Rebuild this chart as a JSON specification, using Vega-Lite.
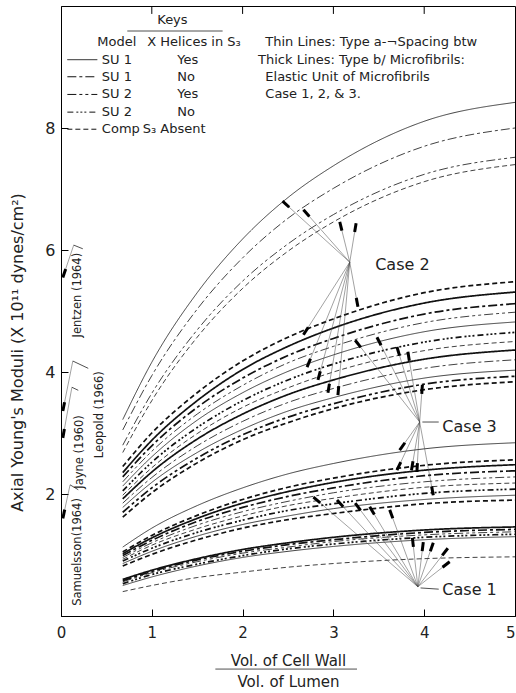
{
  "$schema": "https://vega.github.io/schema/vega-lite/v6.json",
  "width": 454,
  "height": 610,
  "autosize": {"type": "none"},
  "padding": {"left": 61, "top": 6, "right": 1, "bottom": 77},
  "background": "#ffffff",
  "config": {
    "view": {"stroke": "#000", "strokeWidth": 1},
    "font": "DejaVu Sans",
    "axis": {"labelFont": "DejaVu Sans", "titleFont": "DejaVu Sans", "labelColor": "#222", "titleColor": "#222", "domainColor": "#000", "tickColor": "#000", "grid": false, "titleFontWeight": "normal"}
  },
  "datasets": {
    "curves": [
      {"c":"T1","st":"SU1 Yes","wd":"a","x":0.68,"y":3.22},{"c":"T1","st":"SU1 Yes","wd":"a","x":1,"y":4.16},{"c":"T1","st":"SU1 Yes","wd":"a","x":1.5,"y":5.30},{"c":"T1","st":"SU1 Yes","wd":"a","x":2,"y":6.18},{"c":"T1","st":"SU1 Yes","wd":"a","x":2.5,"y":6.86},{"c":"T1","st":"SU1 Yes","wd":"a","x":3,"y":7.38},{"c":"T1","st":"SU1 Yes","wd":"a","x":4,"y":8.11},{"c":"T1","st":"SU1 Yes","wd":"a","x":5,"y":8.42},
      {"c":"T2","st":"SU1 No","wd":"a","x":0.68,"y":3.05},{"c":"T2","st":"SU1 No","wd":"a","x":1,"y":3.94},{"c":"T2","st":"SU1 No","wd":"a","x":1.5,"y":5.03},{"c":"T2","st":"SU1 No","wd":"a","x":2,"y":5.87},{"c":"T2","st":"SU1 No","wd":"a","x":2.5,"y":6.52},{"c":"T2","st":"SU1 No","wd":"a","x":3,"y":7.01},{"c":"T2","st":"SU1 No","wd":"a","x":4,"y":7.70},{"c":"T2","st":"SU1 No","wd":"a","x":5,"y":8.00},
      {"c":"T3","st":"SU2 Yes","wd":"a","x":0.68,"y":2.80},{"c":"T3","st":"SU2 Yes","wd":"a","x":1,"y":3.65},{"c":"T3","st":"SU2 Yes","wd":"a","x":1.5,"y":4.69},{"c":"T3","st":"SU2 Yes","wd":"a","x":2,"y":5.49},{"c":"T3","st":"SU2 Yes","wd":"a","x":2.5,"y":6.10},{"c":"T3","st":"SU2 Yes","wd":"a","x":3,"y":6.58},{"c":"T3","st":"SU2 Yes","wd":"a","x":4,"y":7.24},{"c":"T3","st":"SU2 Yes","wd":"a","x":5,"y":7.52},
      {"c":"T4","st":"Comp","wd":"a","x":0.68,"y":2.68},{"c":"T4","st":"Comp","wd":"a","x":1,"y":3.53},{"c":"T4","st":"Comp","wd":"a","x":1.5,"y":4.57},{"c":"T4","st":"Comp","wd":"a","x":2,"y":5.37},{"c":"T4","st":"Comp","wd":"a","x":2.5,"y":5.98},{"c":"T4","st":"Comp","wd":"a","x":3,"y":6.46},{"c":"T4","st":"Comp","wd":"a","x":4,"y":7.12},{"c":"T4","st":"Comp","wd":"a","x":5,"y":7.40},
      {"c":"M1","st":"Comp","wd":"b","x":0.68,"y":2.45},{"c":"M1","st":"Comp","wd":"b","x":1,"y":3.00},{"c":"M1","st":"Comp","wd":"b","x":1.5,"y":3.66},{"c":"M1","st":"Comp","wd":"b","x":2,"y":4.18},{"c":"M1","st":"Comp","wd":"b","x":2.5,"y":4.57},{"c":"M1","st":"Comp","wd":"b","x":3,"y":4.87},{"c":"M1","st":"Comp","wd":"b","x":4,"y":5.30},{"c":"M1","st":"Comp","wd":"b","x":5,"y":5.48},
      {"c":"M2","st":"SU1 Yes","wd":"b","x":0.68,"y":2.35},{"c":"M2","st":"SU1 Yes","wd":"b","x":1,"y":2.88},{"c":"M2","st":"SU1 Yes","wd":"b","x":1.5,"y":3.53},{"c":"M2","st":"SU1 Yes","wd":"b","x":2,"y":4.04},{"c":"M2","st":"SU1 Yes","wd":"b","x":2.5,"y":4.42},{"c":"M2","st":"SU1 Yes","wd":"b","x":3,"y":4.72},{"c":"M2","st":"SU1 Yes","wd":"b","x":4,"y":5.13},{"c":"M2","st":"SU1 Yes","wd":"b","x":5,"y":5.31},
      {"c":"M3","st":"SU1 No","wd":"b","x":0.68,"y":2.28},{"c":"M3","st":"SU1 No","wd":"b","x":1,"y":2.79},{"c":"M3","st":"SU1 No","wd":"b","x":1.5,"y":3.42},{"c":"M3","st":"SU1 No","wd":"b","x":2,"y":3.90},{"c":"M3","st":"SU1 No","wd":"b","x":2.5,"y":4.27},{"c":"M3","st":"SU1 No","wd":"b","x":3,"y":4.55},{"c":"M3","st":"SU1 No","wd":"b","x":4,"y":4.95},{"c":"M3","st":"SU1 No","wd":"b","x":5,"y":5.12},
      {"c":"M4","st":"SU2 Yes","wd":"a","x":0.68,"y":2.20},{"c":"M4","st":"SU2 Yes","wd":"a","x":1,"y":2.70},{"c":"M4","st":"SU2 Yes","wd":"a","x":1.5,"y":3.31},{"c":"M4","st":"SU2 Yes","wd":"a","x":2,"y":3.78},{"c":"M4","st":"SU2 Yes","wd":"a","x":2.5,"y":4.15},{"c":"M4","st":"SU2 Yes","wd":"a","x":3,"y":4.42},{"c":"M4","st":"SU2 Yes","wd":"a","x":4,"y":4.81},{"c":"M4","st":"SU2 Yes","wd":"a","x":5,"y":4.98},
      {"c":"M5","st":"SU1 Yes","wd":"a","x":0.68,"y":2.13},{"c":"M5","st":"SU1 Yes","wd":"a","x":1,"y":2.61},{"c":"M5","st":"SU1 Yes","wd":"a","x":1.5,"y":3.21},{"c":"M5","st":"SU1 Yes","wd":"a","x":2,"y":3.66},{"c":"M5","st":"SU1 Yes","wd":"a","x":2.5,"y":4.01},{"c":"M5","st":"SU1 Yes","wd":"a","x":3,"y":4.28},{"c":"M5","st":"SU1 Yes","wd":"a","x":4,"y":4.66},{"c":"M5","st":"SU1 Yes","wd":"a","x":5,"y":4.82},
      {"c":"M6","st":"SU2 No","wd":"b","x":0.68,"y":2.05},{"c":"M6","st":"SU2 No","wd":"b","x":1,"y":2.52},{"c":"M6","st":"SU2 No","wd":"b","x":1.5,"y":3.09},{"c":"M6","st":"SU2 No","wd":"b","x":2,"y":3.53},{"c":"M6","st":"SU2 No","wd":"b","x":2.5,"y":3.87},{"c":"M6","st":"SU2 No","wd":"b","x":3,"y":4.13},{"c":"M6","st":"SU2 No","wd":"b","x":4,"y":4.49},{"c":"M6","st":"SU2 No","wd":"b","x":5,"y":4.65},
      {"c":"M7","st":"Comp","wd":"a","x":0.68,"y":1.98},{"c":"M7","st":"Comp","wd":"a","x":1,"y":2.43},{"c":"M7","st":"Comp","wd":"a","x":1.5,"y":2.99},{"c":"M7","st":"Comp","wd":"a","x":2,"y":3.42},{"c":"M7","st":"Comp","wd":"a","x":2.5,"y":3.74},{"c":"M7","st":"Comp","wd":"a","x":3,"y":4.00},{"c":"M7","st":"Comp","wd":"a","x":4,"y":4.35},{"c":"M7","st":"Comp","wd":"a","x":5,"y":4.50},
      {"c":"M8","st":"SU1 Yes","wd":"b","x":0.68,"y":1.92},{"c":"M8","st":"SU1 Yes","wd":"b","x":1,"y":2.36},{"c":"M8","st":"SU1 Yes","wd":"b","x":1.5,"y":2.90},{"c":"M8","st":"SU1 Yes","wd":"b","x":2,"y":3.31},{"c":"M8","st":"SU1 Yes","wd":"b","x":2.5,"y":3.63},{"c":"M8","st":"SU1 Yes","wd":"b","x":3,"y":3.87},{"c":"M8","st":"SU1 Yes","wd":"b","x":4,"y":4.21},{"c":"M8","st":"SU1 Yes","wd":"b","x":5,"y":4.36},
      {"c":"M9","st":"SU1 No","wd":"a","x":0.68,"y":1.85},{"c":"M9","st":"SU1 No","wd":"a","x":1,"y":2.27},{"c":"M9","st":"SU1 No","wd":"a","x":1.5,"y":2.79},{"c":"M9","st":"SU1 No","wd":"a","x":2,"y":3.19},{"c":"M9","st":"SU1 No","wd":"a","x":2.5,"y":3.50},{"c":"M9","st":"SU1 No","wd":"a","x":3,"y":3.73},{"c":"M9","st":"SU1 No","wd":"a","x":4,"y":4.06},{"c":"M9","st":"SU1 No","wd":"a","x":5,"y":4.20},
      {"c":"M10","st":"SU1 Yes","wd":"a","x":0.68,"y":1.78},{"c":"M10","st":"SU1 Yes","wd":"a","x":1,"y":2.19},{"c":"M10","st":"SU1 Yes","wd":"a","x":1.5,"y":2.68},{"c":"M10","st":"SU1 Yes","wd":"a","x":2,"y":3.06},{"c":"M10","st":"SU1 Yes","wd":"a","x":2.5,"y":3.36},{"c":"M10","st":"SU1 Yes","wd":"a","x":3,"y":3.58},{"c":"M10","st":"SU1 Yes","wd":"a","x":4,"y":3.90},{"c":"M10","st":"SU1 Yes","wd":"a","x":5,"y":4.03},
      {"c":"M11","st":"SU2 Yes","wd":"b","x":0.68,"y":1.70},{"c":"M11","st":"SU2 Yes","wd":"b","x":1,"y":2.10},{"c":"M11","st":"SU2 Yes","wd":"b","x":1.5,"y":2.59},{"c":"M11","st":"SU2 Yes","wd":"b","x":2,"y":2.97},{"c":"M11","st":"SU2 Yes","wd":"b","x":2.5,"y":3.26},{"c":"M11","st":"SU2 Yes","wd":"b","x":3,"y":3.48},{"c":"M11","st":"SU2 Yes","wd":"b","x":4,"y":3.80},{"c":"M11","st":"SU2 Yes","wd":"b","x":5,"y":3.93},
      {"c":"M12","st":"Comp","wd":"b","x":0.68,"y":1.62},{"c":"M12","st":"Comp","wd":"b","x":1,"y":2.02},{"c":"M12","st":"Comp","wd":"b","x":1.5,"y":2.51},{"c":"M12","st":"Comp","wd":"b","x":2,"y":2.89},{"c":"M12","st":"Comp","wd":"b","x":2.5,"y":3.17},{"c":"M12","st":"Comp","wd":"b","x":3,"y":3.40},{"c":"M12","st":"Comp","wd":"b","x":4,"y":3.71},{"c":"M12","st":"Comp","wd":"b","x":5,"y":3.84},
      {"c":"L1","st":"SU1 Yes","wd":"a","x":0.68,"y":1.13},{"c":"L1","st":"SU1 Yes","wd":"a","x":1,"y":1.44},{"c":"L1","st":"SU1 Yes","wd":"a","x":1.5,"y":1.81},{"c":"L1","st":"SU1 Yes","wd":"a","x":2,"y":2.10},{"c":"L1","st":"SU1 Yes","wd":"a","x":2.5,"y":2.33},{"c":"L1","st":"SU1 Yes","wd":"a","x":3,"y":2.50},{"c":"L1","st":"SU1 Yes","wd":"a","x":4,"y":2.74},{"c":"L1","st":"SU1 Yes","wd":"a","x":5,"y":2.84},
      {"c":"L2","st":"Comp","wd":"b","x":0.68,"y":1.05},{"c":"L2","st":"Comp","wd":"b","x":1,"y":1.32},{"c":"L2","st":"Comp","wd":"b","x":1.5,"y":1.65},{"c":"L2","st":"Comp","wd":"b","x":2,"y":1.91},{"c":"L2","st":"Comp","wd":"b","x":2.5,"y":2.11},{"c":"L2","st":"Comp","wd":"b","x":3,"y":2.26},{"c":"L2","st":"Comp","wd":"b","x":4,"y":2.47},{"c":"L2","st":"Comp","wd":"b","x":5,"y":2.56},
      {"c":"L3","st":"SU1 Yes","wd":"b","x":0.68,"y":1.02},{"c":"L3","st":"SU1 Yes","wd":"b","x":1,"y":1.28},{"c":"L3","st":"SU1 Yes","wd":"b","x":1.5,"y":1.60},{"c":"L3","st":"SU1 Yes","wd":"b","x":2,"y":1.85},{"c":"L3","st":"SU1 Yes","wd":"b","x":2.5,"y":2.04},{"c":"L3","st":"SU1 Yes","wd":"b","x":3,"y":2.19},{"c":"L3","st":"SU1 Yes","wd":"b","x":4,"y":2.39},{"c":"L3","st":"SU1 Yes","wd":"b","x":5,"y":2.48},
      {"c":"L4","st":"SU1 No","wd":"b","x":0.68,"y":0.99},{"c":"L4","st":"SU1 No","wd":"b","x":1,"y":1.24},{"c":"L4","st":"SU1 No","wd":"b","x":1.5,"y":1.55},{"c":"L4","st":"SU1 No","wd":"b","x":2,"y":1.78},{"c":"L4","st":"SU1 No","wd":"b","x":2.5,"y":1.96},{"c":"L4","st":"SU1 No","wd":"b","x":3,"y":2.10},{"c":"L4","st":"SU1 No","wd":"b","x":4,"y":2.30},{"c":"L4","st":"SU1 No","wd":"b","x":5,"y":2.38},
      {"c":"L5","st":"SU2 Yes","wd":"a","x":0.68,"y":0.96},{"c":"L5","st":"SU2 Yes","wd":"a","x":1,"y":1.20},{"c":"L5","st":"SU2 Yes","wd":"a","x":1.5,"y":1.49},{"c":"L5","st":"SU2 Yes","wd":"a","x":2,"y":1.71},{"c":"L5","st":"SU2 Yes","wd":"a","x":2.5,"y":1.88},{"c":"L5","st":"SU2 Yes","wd":"a","x":3,"y":2.02},{"c":"L5","st":"SU2 Yes","wd":"a","x":4,"y":2.20},{"c":"L5","st":"SU2 Yes","wd":"a","x":5,"y":2.28},
      {"c":"L6","st":"Comp","wd":"a","x":0.68,"y":0.93},{"c":"L6","st":"Comp","wd":"a","x":1,"y":1.16},{"c":"L6","st":"Comp","wd":"a","x":1.5,"y":1.43},{"c":"L6","st":"Comp","wd":"a","x":2,"y":1.64},{"c":"L6","st":"Comp","wd":"a","x":2.5,"y":1.81},{"c":"L6","st":"Comp","wd":"a","x":3,"y":1.93},{"c":"L6","st":"Comp","wd":"a","x":4,"y":2.11},{"c":"L6","st":"Comp","wd":"a","x":5,"y":2.18},
      {"c":"L7","st":"SU2 No","wd":"b","x":0.68,"y":0.90},{"c":"L7","st":"SU2 No","wd":"b","x":1,"y":1.11},{"c":"L7","st":"SU2 No","wd":"b","x":1.5,"y":1.37},{"c":"L7","st":"SU2 No","wd":"b","x":2,"y":1.57},{"c":"L7","st":"SU2 No","wd":"b","x":2.5,"y":1.73},{"c":"L7","st":"SU2 No","wd":"b","x":3,"y":1.84},{"c":"L7","st":"SU2 No","wd":"b","x":4,"y":2.01},{"c":"L7","st":"SU2 No","wd":"b","x":5,"y":2.08},
      {"c":"L8","st":"SU1 Yes","wd":"a","x":0.68,"y":0.86},{"c":"L8","st":"SU1 Yes","wd":"a","x":1,"y":1.06},{"c":"L8","st":"SU1 Yes","wd":"a","x":1.5,"y":1.31},{"c":"L8","st":"SU1 Yes","wd":"a","x":2,"y":1.50},{"c":"L8","st":"SU1 Yes","wd":"a","x":2.5,"y":1.64},{"c":"L8","st":"SU1 Yes","wd":"a","x":3,"y":1.76},{"c":"L8","st":"SU1 Yes","wd":"a","x":4,"y":1.91},{"c":"L8","st":"SU1 Yes","wd":"a","x":5,"y":1.98},
      {"c":"L9","st":"Comp","wd":"b","x":0.68,"y":0.82},{"c":"L9","st":"Comp","wd":"b","x":1,"y":1.01},{"c":"L9","st":"Comp","wd":"b","x":1.5,"y":1.25},{"c":"L9","st":"Comp","wd":"b","x":2,"y":1.44},{"c":"L9","st":"Comp","wd":"b","x":2.5,"y":1.58},{"c":"L9","st":"Comp","wd":"b","x":3,"y":1.68},{"c":"L9","st":"Comp","wd":"b","x":4,"y":1.84},{"c":"L9","st":"Comp","wd":"b","x":5,"y":1.90},
      {"c":"B1","st":"SU1 Yes","wd":"b","x":0.68,"y":0.60},{"c":"B1","st":"SU1 Yes","wd":"b","x":1,"y":0.75},{"c":"B1","st":"SU1 Yes","wd":"b","x":1.5,"y":0.94},{"c":"B1","st":"SU1 Yes","wd":"b","x":2,"y":1.09},{"c":"B1","st":"SU1 Yes","wd":"b","x":2.5,"y":1.20},{"c":"B1","st":"SU1 Yes","wd":"b","x":3,"y":1.29},{"c":"B1","st":"SU1 Yes","wd":"b","x":4,"y":1.41},{"c":"B1","st":"SU1 Yes","wd":"b","x":5,"y":1.46},
      {"c":"B2","st":"SU1 No","wd":"b","x":0.68,"y":0.58},{"c":"B2","st":"SU1 No","wd":"b","x":1,"y":0.73},{"c":"B2","st":"SU1 No","wd":"b","x":1.5,"y":0.92},{"c":"B2","st":"SU1 No","wd":"b","x":2,"y":1.06},{"c":"B2","st":"SU1 No","wd":"b","x":2.5,"y":1.17},{"c":"B2","st":"SU1 No","wd":"b","x":3,"y":1.25},{"c":"B2","st":"SU1 No","wd":"b","x":4,"y":1.37},{"c":"B2","st":"SU1 No","wd":"b","x":5,"y":1.42},
      {"c":"B3","st":"SU2 Yes","wd":"a","x":0.68,"y":0.56},{"c":"B3","st":"SU2 Yes","wd":"a","x":1,"y":0.71},{"c":"B3","st":"SU2 Yes","wd":"a","x":1.5,"y":0.89},{"c":"B3","st":"SU2 Yes","wd":"a","x":2,"y":1.03},{"c":"B3","st":"SU2 Yes","wd":"a","x":2.5,"y":1.13},{"c":"B3","st":"SU2 Yes","wd":"a","x":3,"y":1.22},{"c":"B3","st":"SU2 Yes","wd":"a","x":4,"y":1.33},{"c":"B3","st":"SU2 Yes","wd":"a","x":5,"y":1.38},
      {"c":"B4","st":"SU2 No","wd":"b","x":0.68,"y":0.53},{"c":"B4","st":"SU2 No","wd":"b","x":1,"y":0.68},{"c":"B4","st":"SU2 No","wd":"b","x":1.5,"y":0.85},{"c":"B4","st":"SU2 No","wd":"b","x":2,"y":0.99},{"c":"B4","st":"SU2 No","wd":"b","x":2.5,"y":1.10},{"c":"B4","st":"SU2 No","wd":"b","x":3,"y":1.18},{"c":"B4","st":"SU2 No","wd":"b","x":4,"y":1.29},{"c":"B4","st":"SU2 No","wd":"b","x":5,"y":1.34},
      {"c":"B5","st":"SU1 Yes","wd":"a","x":0.68,"y":0.50},{"c":"B5","st":"SU1 Yes","wd":"a","x":1,"y":0.64},{"c":"B5","st":"SU1 Yes","wd":"a","x":1.5,"y":0.82},{"c":"B5","st":"SU1 Yes","wd":"a","x":2,"y":0.96},{"c":"B5","st":"SU1 Yes","wd":"a","x":2.5,"y":1.06},{"c":"B5","st":"SU1 Yes","wd":"a","x":3,"y":1.14},{"c":"B5","st":"SU1 Yes","wd":"a","x":4,"y":1.25},{"c":"B5","st":"SU1 Yes","wd":"a","x":5,"y":1.30},
      {"c":"B6","st":"Comp","wd":"a","x":0.68,"y":0.40},{"c":"B6","st":"Comp","wd":"a","x":1,"y":0.50},{"c":"B6","st":"Comp","wd":"a","x":1.5,"y":0.63},{"c":"B6","st":"Comp","wd":"a","x":2,"y":0.72},{"c":"B6","st":"Comp","wd":"a","x":2.5,"y":0.80},{"c":"B6","st":"Comp","wd":"a","x":3,"y":0.86},{"c":"B6","st":"Comp","wd":"a","x":4,"y":0.94},{"c":"B6","st":"Comp","wd":"a","x":5,"y":0.97}
    ],
    "keys": [
      {"st":"SU1 Yes","x":0.07,"x2":0.40,"y":9.12},
      {"st":"SU1 No","x":0.07,"x2":0.40,"y":8.84},
      {"st":"SU2 Yes","x":0.07,"x2":0.40,"y":8.55},
      {"st":"SU2 No","x":0.07,"x2":0.40,"y":8.26},
      {"st":"Comp","x":0.07,"x2":0.40,"y":7.98}
    ],
    "topticks": [
      {"x":1,"y":10,"y2":9.87},
      {"x":2,"y":10,"y2":9.87},
      {"x":3,"y":10,"y2":9.87},
      {"x":4,"y":10,"y2":9.87}
    ],
    "spokes": [
      {"k":"Case 2","x":2.44,"y":6.80,"x2":3.18,"y2":5.80},
      {"k":"Case 2","x":2.67,"y":6.66,"x2":3.18,"y2":5.80},
      {"k":"Case 2","x":3.07,"y":6.46,"x2":3.18,"y2":5.80},
      {"k":"Case 2","x":3.25,"y":6.44,"x2":3.18,"y2":5.80},
      {"k":"Case 2","x":3.27,"y":5.07,"x2":3.18,"y2":5.80},
      {"k":"Case 2","x":2.67,"y":4.61,"x2":3.18,"y2":5.80},
      {"k":"Case 2","x":2.71,"y":4.08,"x2":3.18,"y2":5.80},
      {"k":"Case 2","x":2.83,"y":3.87,"x2":3.18,"y2":5.80},
      {"k":"Case 2","x":2.94,"y":3.66,"x2":3.18,"y2":5.80},
      {"k":"Case 2","x":3.05,"y":3.62,"x2":3.18,"y2":5.80},
      {"k":"Case 3","x":3.24,"y":4.52,"x2":3.95,"y2":3.18},
      {"k":"Case 3","x":3.48,"y":4.57,"x2":3.95,"y2":3.18},
      {"k":"Case 3","x":3.70,"y":4.41,"x2":3.95,"y2":3.18},
      {"k":"Case 3","x":3.82,"y":4.33,"x2":3.95,"y2":3.18},
      {"k":"Case 3","x":3.98,"y":3.79,"x2":3.95,"y2":3.18},
      {"k":"Case 3","x":3.73,"y":2.72,"x2":3.95,"y2":3.18},
      {"k":"Case 3","x":3.70,"y":2.39,"x2":3.95,"y2":3.18},
      {"k":"Case 3","x":3.86,"y":2.39,"x2":3.95,"y2":3.18},
      {"k":"Case 3","x":3.92,"y":2.36,"x2":3.95,"y2":3.18},
      {"k":"Case 3","x":4.10,"y":1.98,"x2":3.95,"y2":3.18},
      {"k":"Case 1","x":2.78,"y":1.95,"x2":3.93,"y2":0.48},
      {"k":"Case 1","x":3.04,"y":1.90,"x2":3.93,"y2":0.48},
      {"k":"Case 1","x":3.24,"y":1.85,"x2":3.93,"y2":0.48},
      {"k":"Case 1","x":3.40,"y":1.79,"x2":3.93,"y2":0.48},
      {"k":"Case 1","x":3.62,"y":1.74,"x2":3.93,"y2":0.48},
      {"k":"Case 1","x":3.87,"y":1.28,"x2":3.93,"y2":0.48},
      {"k":"Case 1","x":3.99,"y":1.21,"x2":3.93,"y2":0.48},
      {"k":"Case 1","x":4.10,"y":1.20,"x2":3.93,"y2":0.48},
      {"k":"Case 1","x":4.26,"y":1.11,"x2":3.93,"y2":0.48},
      {"k":"Case 1","x":4.28,"y":0.89,"x2":3.93,"y2":0.48},
      {"k":"Jentzen","x":0.02,"y":5.55,"x2":0.14,"y2":6.08},
      {"k":"Leopold","x":0.02,"y":3.36,"x2":0.13,"y2":4.18},
      {"k":"Jayne","x":0.02,"y":2.92,"x2":0.12,"y2":3.75},
      {"k":"Samuelsson","x":0.02,"y":1.60,"x2":0.10,"y2":2.15}
    ],
    "leads": [
      {"x":0.14,"y":6.08,"x2":0.24,"y2":6.02},
      {"x":0.13,"y":4.18,"x2":0.30,"y2":4.06},
      {"x":0.12,"y":3.75,"x2":0.19,"y2":3.70},
      {"x":0.10,"y":2.15,"x2":0.19,"y2":2.07},
      {"x":3.98,"y":3.18,"x2":4.16,"y2":3.18},
      {"x":3.96,"y":0.46,"x2":4.16,"y2":0.44},
      {"x":0.73,"y":9.59,"x2":1.78,"y2":9.59},
      {"x":1.70,"y":-0.87,"x2":3.26,"y2":-0.87}
    ],
    "texts": [
      {"g":"key","t":"Keys","x":1.06,"y":9.77},
      {"g":"key","t":"Model","x":0.40,"y":9.41},
      {"g":"key","t":"X Helices in S₃","x":0.95,"y":9.41},
      {"g":"key","t":"SU 1","x":0.45,"y":9.12},
      {"g":"key","t":"Yes","x":1.28,"y":9.12},
      {"g":"key","t":"SU 1","x":0.45,"y":8.84},
      {"g":"key","t":"No","x":1.28,"y":8.84},
      {"g":"key","t":"SU 2","x":0.45,"y":8.55},
      {"g":"key","t":"Yes","x":1.28,"y":8.55},
      {"g":"key","t":"SU 2","x":0.45,"y":8.26},
      {"g":"key","t":"No","x":1.28,"y":8.26},
      {"g":"key","t":"Comp","x":0.45,"y":7.98},
      {"g":"key","t":"S₃ Absent","x":0.90,"y":7.98},
      {"g":"key","t":"Thin Lines: Type a-¬Spacing btw","x":2.25,"y":9.41},
      {"g":"key","t":"Thick Lines: Type b/ Microfibrils:","x":2.17,"y":9.12},
      {"g":"key","t":"Elastic Unit of Microfibrils","x":2.25,"y":8.84},
      {"g":"key","t":"Case 1, 2, & 3.","x":2.25,"y":8.55},
      {"g":"case","t":"Case 2","x":3.46,"y":5.75},
      {"g":"case","t":"Case 3","x":4.20,"y":3.10},
      {"g":"case","t":"Case 1","x":4.20,"y":0.43},
      {"g":"ref","t":"Jentzen (1964)","x":0.19,"y":5.26},
      {"g":"ref","t":"Samuelsson(1964)","x":0.19,"y":1.05},
      {"g":"ref","t":"Jayne (1960)","x":0.21,"y":2.69},
      {"g":"ref","t":"Leopold (1966)","x":0.43,"y":3.30}
    ]
  },
  "encoding": {
    "x": {"field": "x", "type": "quantitative", "scale": {"domain": [0, 5], "nice": false},
      "axis": {"values": [0, 1, 2, 3, 4, 5], "format": "d", "labelFontSize": 15, "tickSize": -7, "labelPadding": 16, "labelFlush": false, "labelOverlap": false,
        "labelAlign": {"expr": "datum.value == 5 ? 'right' : 'center'"},
        "title": ["Vol. of Cell Wall", "Vol. of Lumen"], "titleFontSize": 15, "titleLineHeight": 21, "titlePadding": 13}},
    "y": {"field": "y", "type": "quantitative", "scale": {"domain": [0, 10], "nice": false},
      "axis": {"values": [2, 4, 6, 8], "format": "d", "labelFontSize": 16, "tickSize": -7, "labelPadding": 13,
        "title": "Axial Young's Moduli (X 10¹¹ dynes/cm²)", "titleFontSize": 16, "titleX": -44, "titleY": 346, "titleAlign": "center", "titleBaseline": "middle"}}
  },
  "layer": [
    {
      "data": {"name": "curves"},
      "mark": {"type": "line", "interpolate": "monotone", "strokeCap": "butt", "color": "#111"},
      "encoding": {
        "detail": {"field": "c"},
        "strokeDash": {"field": "st", "type": "nominal", "legend": null,
          "scale": {"domain": ["SU1 Yes", "SU1 No", "SU2 Yes", "SU2 No", "Comp"], "range": [[1, 0], [9, 3, 3, 3], [9, 3, 3, 3, 3, 3], [6, 3, 2, 2, 2, 2, 2, 3], [5, 3]]}},
        "strokeWidth": {"field": "wd", "type": "nominal", "legend": null, "scale": {"domain": ["a", "b"], "range": [0.8, 1.7]}}
      }
    },
    {
      "data": {"name": "keys"},
      "mark": {"type": "rule", "color": "#111", "strokeWidth": 1},
      "encoding": {
        "x2": {"field": "x2"},
        "strokeDash": {"field": "st", "type": "nominal", "legend": null}
      }
    },
    {
      "data": {"name": "topticks"},
      "mark": {"type": "rule", "color": "#000", "strokeWidth": 1},
      "encoding": {
        "y2": {"field": "y2"}
      }
    },
    {
      "data": {"name": "spokes"},
      "mark": {"type": "rule", "color": "#444", "strokeWidth": 0.5},
      "encoding": {
        "x2": {"field": "x2"},
        "y2": {"field": "y2"}
      }
    },
    {
      "data": {"name": "spokes"},
      "mark": {"type": "rule", "color": "#000", "strokeWidth": 3, "strokeDash": [9, 3000], "strokeCap": "butt"},
      "encoding": {
        "x2": {"field": "x2"},
        "y2": {"field": "y2"}
      }
    },
    {
      "data": {"name": "leads"},
      "mark": {"type": "rule", "color": "#222", "strokeWidth": 0.8},
      "encoding": {
        "x2": {"field": "x2"},
        "y2": {"field": "y2"}
      }
    },
    {
      "data": {"name": "texts"},
      "transform": [{"filter": "datum.g === 'key'"}],
      "mark": {"type": "text", "align": "left", "baseline": "middle", "fontSize": 13, "color": "#222"},
      "encoding": {"text": {"field": "t"}}
    },
    {
      "data": {"name": "texts"},
      "transform": [{"filter": "datum.g === 'case'"}],
      "mark": {"type": "text", "align": "left", "baseline": "middle", "fontSize": 16, "color": "#222"},
      "encoding": {"text": {"field": "t"}}
    },
    {
      "data": {"name": "texts"},
      "transform": [{"filter": "datum.g === 'ref'"}],
      "mark": {"type": "text", "align": "center", "baseline": "middle", "angle": 270, "fontSize": 11.5, "color": "#222"},
      "encoding": {"text": {"field": "t"}}
    }
  ]
}
